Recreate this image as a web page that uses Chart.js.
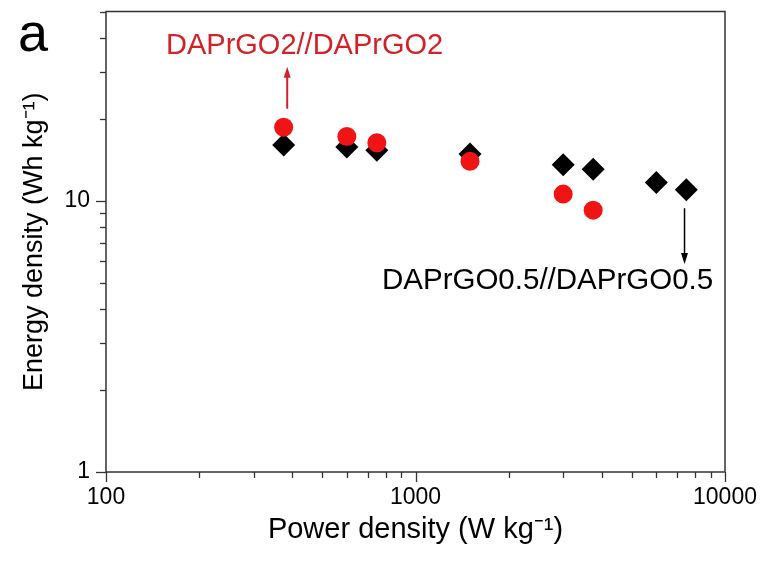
<!DOCTYPE html>
<html>
<head>
<meta charset="utf-8">
<script src="https://cdn.jsdelivr.net/npm/chart.js@4/dist/chart.umd.min.js"></script>
<style>
  html, body { margin: 0; padding: 0; background: #fff; }
  #wrap { width: 766px; height: 568px; }
</style>
</head>
<body>
<div id="wrap"><canvas id="c" width="766" height="568"></canvas></div>
<script>
// ---- data ----
const powerDAPrGO2 = [375, 600, 750, 1500, 3000, 3750];
const energyDAPrGO2 = [18.7, 17.3, 16.4, 14.0, 10.6, 9.25];
const powerDAPrGO05 = [375, 600, 750, 1500, 3000, 3750, 6000, 7500];
const energyDAPrGO05 = [16.1, 15.8, 15.4, 14.9, 13.6, 13.1, 11.7, 11.0];
const xTicks = [100,200,300,400,500,600,700,800,900,1000,2000,3000,4000,5000,6000,7000,8000,9000,10000];
const yTicks = [1,2,3,4,5,6,7,8,9,10,20,30,40,50];
const xLabels = [100, 1000, 10000];
const yLabels = [1, 10];
const labelRed = 'DAPrGO2//DAPrGO2';
const labelBlack = 'DAPrGO0.5//DAPrGO0.5';
const panelLetter = 'a';

const FONT = "'Liberation Sans', Arial, sans-serif";

const decor = {
  id: 'decor',
  afterDraw(chart) {
    const ctx = chart.ctx;
    const xs = chart.scales.x, ys = chart.scales.y;
    const a = chart.chartArea;
    ctx.save();
    // frame
    ctx.strokeStyle = '#333';
    ctx.lineWidth = 1.5;
    ctx.strokeRect(a.left, a.top, a.right - a.left, a.bottom - a.top);
    // tick marks
    ctx.lineWidth = 1.3;
    xTicks.forEach(v => {
      const px = Math.round(xs.getPixelForValue(v)) + 0.5;
      const len = xLabels.includes(v) ? 10 : 6;
      ctx.beginPath(); ctx.moveTo(px, a.bottom); ctx.lineTo(px, a.bottom + len); ctx.stroke();
    });
    yTicks.forEach(v => {
      const py = Math.round(ys.getPixelForValue(v)) + 0.5;
      const len = yLabels.includes(v) ? 10 : 6;
      ctx.beginPath(); ctx.moveTo(a.left, py); ctx.lineTo(a.left - len, py); ctx.stroke();
    });
    // panel letter
    ctx.fillStyle = '#000';
    ctx.font = "54px " + FONT;
    ctx.textBaseline = 'alphabetic';
    ctx.textAlign = 'left';
    ctx.fillText(panelLetter, 18, 51);
    // red annotation
    ctx.fillStyle = '#d42027';
    ctx.strokeStyle = '#d42027';
    ctx.font = "29px " + FONT;
    ctx.fillText(labelRed, 166, 54);
    const rx = xs.getPixelForValue(385);
    const rTail = ys.getPixelForValue(21.9), rHead = ys.getPixelForValue(31.3);
    ctx.lineWidth = 2;
    ctx.beginPath(); ctx.moveTo(rx, rTail); ctx.lineTo(rx, rHead + 8); ctx.stroke();
    ctx.beginPath(); ctx.moveTo(rx, rHead); ctx.lineTo(rx - 3.5, rHead + 11); ctx.lineTo(rx + 3.5, rHead + 11); ctx.closePath(); ctx.fill();
    // black annotation
    ctx.fillStyle = '#000';
    ctx.strokeStyle = '#000';
    ctx.font = "29.5px " + FONT;
    ctx.fillText(labelBlack, 382, 289);
    const bx = xs.getPixelForValue(7400);
    const bTail = ys.getPixelForValue(9.4), bHead = ys.getPixelForValue(5.85);
    ctx.lineWidth = 1.5;
    ctx.beginPath(); ctx.moveTo(bx, bTail); ctx.lineTo(bx, bHead - 8); ctx.stroke();
    ctx.beginPath(); ctx.moveTo(bx, bHead); ctx.lineTo(bx - 3.5, bHead - 11); ctx.lineTo(bx + 3.5, bHead - 11); ctx.closePath(); ctx.fill();
    ctx.restore();
  }
};

new Chart(document.getElementById('c'), {
  type: 'scatter',
  data: {
    datasets: [
      {
        label: labelRed,
        data: powerDAPrGO2.map((p, i) => ({ x: p, y: energyDAPrGO2[i] })),
        pointStyle: 'circle',
        pointRadius: 9.5,
        pointHoverRadius: 9.5,
        backgroundColor: '#f01414',
        borderColor: '#f01414',
        borderWidth: 0
      },
      {
        label: labelBlack,
        data: powerDAPrGO05.map((p, i) => ({ x: p, y: energyDAPrGO05[i] })),
        pointStyle: 'rectRot',
        pointRadius: 11.5,
        pointHoverRadius: 11.5,
        backgroundColor: '#000',
        borderColor: '#000',
        borderWidth: 0
      }
    ]
  },
  options: {
    responsive: false,
    animation: false,
    events: [],
    layout: { padding: { left: 0, top: 11, right: 41, bottom: 0 } },
    plugins: { legend: { display: false }, tooltip: { enabled: false } },
    scales: {
      x: {
        type: 'logarithmic',
        min: 100, max: 10000,
        afterBuildTicks: s => { s.ticks = xTicks.map(v => ({ value: v })); },
        afterFit: s => { s.height = 96; s.paddingLeft = 0; s.paddingRight = 0; },
        grid: { drawOnChartArea: false, drawTicks: true, tickLength: 10, tickColor: 'rgba(0,0,0,0)' },
        border: { display: false },
        ticks: {
          autoSkip: false, maxRotation: 0, padding: 2,
          color: '#000', font: { family: FONT, size: 23 },
          callback: v => xLabels.includes(v) ? String(v) : ''
        },
        title: {
          display: true, text: 'Power density (W kg⁻¹)', color: '#000',
          font: { family: FONT, size: 29 }, padding: { top: 0, bottom: 21 }
        }
      },
      y: {
        type: 'logarithmic',
        min: 1, max: 50,
        afterBuildTicks: s => { s.ticks = yTicks.map(v => ({ value: v })); },
        afterFit: s => { s.width = 106; s.paddingTop = 0; s.paddingBottom = 0; },
        grid: { drawOnChartArea: false, drawTicks: true, tickLength: 10, tickColor: 'rgba(0,0,0,0)' },
        border: { display: false },
        ticks: {
          autoSkip: false, padding: 6,
          color: '#000', font: { family: FONT, size: 23 },
          callback: v => yLabels.includes(v) ? String(v) : ''
        },
        title: {
          display: true, text: 'Energy density (Wh kg⁻¹)', color: '#000',
          font: { family: FONT, size: 27 }, padding: { top: 18, bottom: 0 }
        }
      }
    }
  },
  plugins: [decor]
});
</script>
</body>
</html>
